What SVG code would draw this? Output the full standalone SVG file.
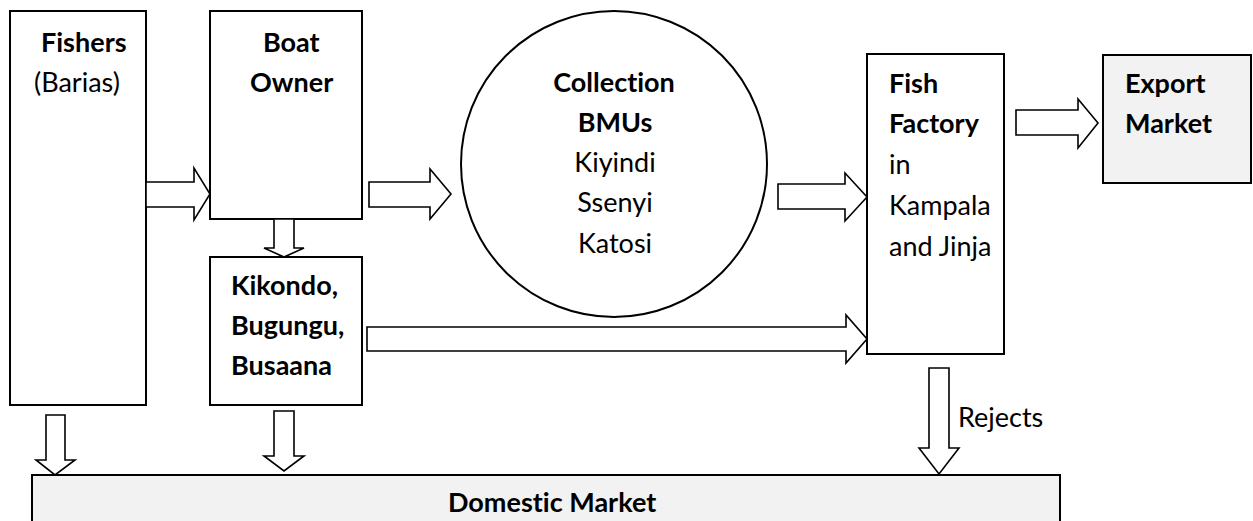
<svg xmlns="http://www.w3.org/2000/svg" width="1253" height="521" viewBox="0 0 1253 521">
<style>
.box{fill:#fff;stroke:#000;stroke-width:2}
.grey{fill:#f2f2f2;stroke:#000;stroke-width:2}
.arr{fill:#fff;stroke:#000;stroke-width:1.6;stroke-linejoin:miter}
text{font-family:Lato,"Noto Sans","Liberation Sans",sans-serif;font-size:27px;fill:#000;font-variant-ligatures:none}
.b{font-weight:bold}
.c{text-anchor:middle}
</style>
<rect width="1253" height="521" fill="#fff"/>
<g id="fishers">
<rect class="box" x="10" y="11" width="136" height="394"/>
<text class="b" x="41" y="52">Fishers</text>
<text x="34" y="92">(Barias)</text>
</g>
<g id="boat-owner">
<rect class="box" x="210" y="11" width="152" height="208"/>
<text class="b" x="263" y="52">Boat</text>
<text class="b" x="250" y="92">Owner</text>
</g>
<g id="kikondo">
<rect class="box" x="210" y="257" width="152" height="148"/>
<text class="b" x="231" y="295">Kikondo,</text>
<text class="b" x="231" y="335">Bugungu,</text>
<text class="b" x="231" y="375">Busaana</text>
</g>
<g id="collection">
<circle class="box" cx="614" cy="164" r="153"/>
<text class="b c" x="614" y="92">Collection</text>
<text class="b c" x="615" y="132">BMUs</text>
<text class="c" x="615" y="172">Kiyindi</text>
<text class="c" x="615" y="212">Ssenyi</text>
<text class="c" x="615" y="253">Katosi</text>
</g>
<g id="factory">
<rect class="box" x="867" y="54" width="137" height="300"/>
<text class="b" x="889" y="93">Fish</text>
<text class="b" x="889" y="133">Factory</text>
<text x="889" y="174">in</text>
<text x="889" y="215">Kampala</text>
<text x="889" y="256">and Jinja</text>
</g>
<g id="export">
<rect class="grey" x="1103" y="55" width="148" height="128"/>
<text class="b" x="1125" y="93">Export</text>
<text class="b" x="1125" y="133">Market</text>
</g>
<g id="domestic">
<rect class="grey" x="32" y="475" width="1028" height="60"/>
<text class="b" x="448" y="512">Domestic Market</text>
</g>
<g id="connectors">
<polygon class="arr" points="146,182 194,182 194,168 210,194 194,220 194,207 146,207"/>
<polygon class="arr" points="369,182 430,182 430,169 451,194 430,219 430,207 369,207"/>
<polygon class="arr" points="274,219 294,219 294,248 304,248 284,257 264,248 274,248"/>
<polygon class="arr" points="778,184 845,184 845,173 867,197 845,221 845,209 778,209"/>
<polygon class="arr" points="367,327 846,327 846,315 867,339 846,363 846,351 367,351"/>
<polygon class="arr" points="1016,110 1078,110 1078,99 1098,123 1078,148 1078,135 1016,135"/>
<polygon class="arr" points="46,415 65,415 65,460 75,460 55,475 36,460 46,460"/>
<polygon class="arr" points="274,411 294,411 294,456 304,456 284,471 264,456 274,456"/>
<polygon class="arr" points="929,368 949,368 949,448 959,448 939,474 919,448 929,448"/>
<text x="958" y="427">Rejects</text>
</g>
</svg>
